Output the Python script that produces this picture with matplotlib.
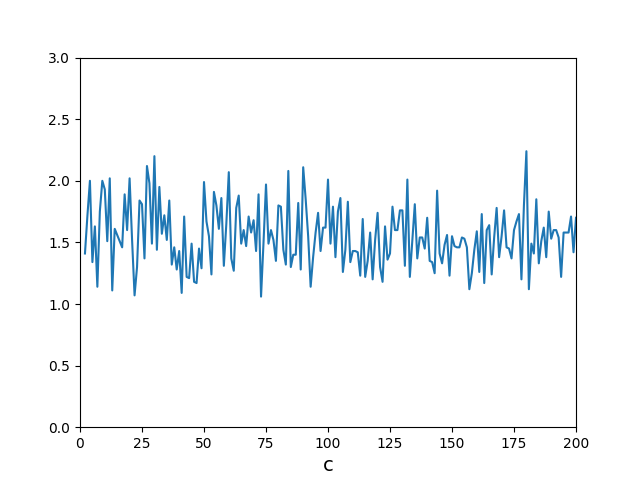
import matplotlib
matplotlib.use("Agg")
import matplotlib.pyplot as plt
import numpy as np

x_start = 2
values = [
    1.41, 1.72, 2.00, 1.34, 1.63, 1.14, 1.75, 2.00, 1.93, 1.51,  # 2-11
    2.02, 1.11, 1.61, 1.56, 1.51, 1.46, 1.89, 1.60, 2.02, 1.52,  # 12-21
    1.07, 1.30, 1.84, 1.81, 1.37, 2.12, 1.98, 1.49, 2.20, 1.44,  # 22-31
    1.95, 1.57, 1.72, 1.52, 1.84, 1.32, 1.46, 1.28, 1.43, 1.09,  # 32-41
    1.71, 1.22, 1.21, 1.49, 1.18, 1.17, 1.45, 1.29, 1.99, 1.67,  # 42-51
    1.55, 1.24, 1.91, 1.80, 1.61, 1.86, 1.31, 1.65, 2.07, 1.37,  # 52-61
    1.27, 1.78, 1.88, 1.49, 1.60, 1.47, 1.71, 1.58, 1.68, 1.43,  # 62-71
    1.89, 1.06, 1.50, 1.97, 1.49, 1.60, 1.52, 1.35, 1.80, 1.79,  # 72-81
    1.44, 1.32, 2.08, 1.30, 1.40, 1.40, 1.82, 1.28, 2.11, 1.85,  # 82-91
    1.55, 1.14, 1.38, 1.58, 1.74, 1.43, 1.62, 1.62, 2.01, 1.49,  # 92-101
    1.79, 1.38, 1.75, 1.86, 1.26, 1.44, 1.83, 1.34, 1.43, 1.43,  # 102-111
    1.42, 1.23, 1.69, 1.22, 1.35, 1.58, 1.20, 1.52, 1.74, 1.30,  # 112-121
    1.18, 1.63, 1.36, 1.41, 1.79, 1.60, 1.60, 1.76, 1.76, 1.31,  # 122-131
    2.01, 1.22, 1.52, 1.81, 1.37, 1.54, 1.54, 1.45, 1.70, 1.35,  # 132-141
    1.34, 1.25, 1.92, 1.41, 1.33, 1.48, 1.56, 1.23, 1.55, 1.47,  # 142-151
    1.46, 1.46, 1.54, 1.53, 1.46, 1.12, 1.25, 1.44, 1.59, 1.26,  # 152-161
    1.73, 1.17, 1.60, 1.64, 1.24, 1.54, 1.78, 1.38, 1.55, 1.76,  # 162-171
    1.46, 1.45, 1.37, 1.60, 1.67, 1.73, 1.20, 1.80, 2.24, 1.12,  # 172-181
    1.49, 1.41, 1.85, 1.33, 1.51, 1.62, 1.38, 1.75, 1.53, 1.60,  # 182-191
    1.60, 1.54, 1.22, 1.58, 1.58, 1.58, 1.71, 1.42, 1.70,        # 192-200
]
x = np.arange(x_start, x_start + len(values))

fig, ax = plt.subplots(figsize=(6.4, 4.8), dpi=100)
ax.plot(x, values, color="#1f77b4")
ax.set_xlim(0, 200)
ax.set_ylim(0, 3.0)
ax.set_xlabel("c", fontsize=14)
fig.savefig("out.png")
